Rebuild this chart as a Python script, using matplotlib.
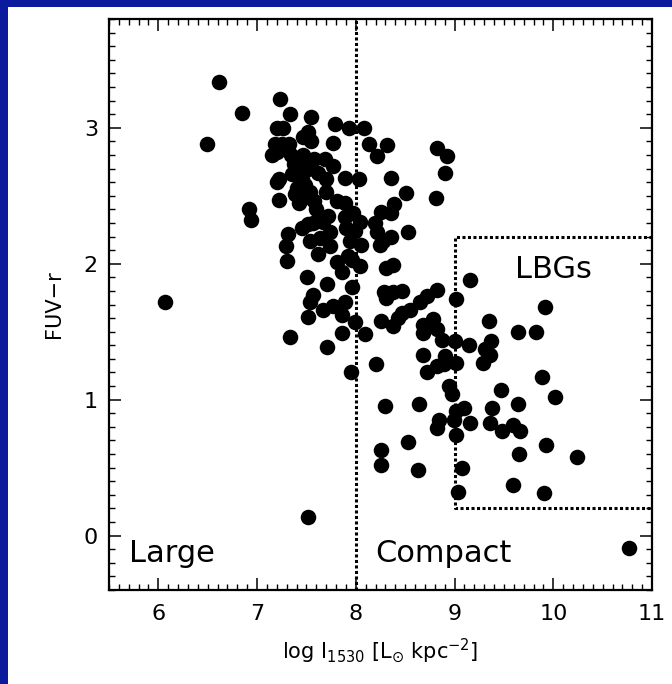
import matplotlib
matplotlib.use("Agg")
import matplotlib.pyplot as plt
from matplotlib.ticker import MultipleLocator, FixedLocator
from matplotlib.patches import Rectangle

# log surface brightness at 1530 A [L_sun kpc^-2] and FUV-r colour per galaxy
log_i1530 = [
    6.07, 6.49, 6.61, 6.85, 6.92, 6.94, 7.52, 10.77,
    7.23, 7.33, 7.55, 7.79, 7.20, 7.26, 7.52, 7.47, 7.55, 7.18, 7.25, 7.32,
    7.77, 7.15, 7.20, 7.34, 7.47, 7.43, 7.37, 7.58, 7.69, 7.77, 7.62, 7.70,
    7.22, 7.20, 7.40, 7.49, 7.38, 7.47, 7.54, 7.22, 7.70, 7.81, 7.58, 7.93,
    8.08, 8.13, 8.32, 8.21, 8.82, 8.92, 8.90, 8.81, 7.89, 8.03, 8.36, 8.51,
    8.39, 7.89, 7.52, 7.45, 7.35, 7.60, 7.42,
    7.31, 7.29, 7.30, 7.45, 7.52, 7.57, 7.67, 7.72, 7.54, 7.64, 7.74, 7.74,
    7.62, 7.81, 7.86, 7.51, 7.71, 7.57, 7.54, 7.67, 7.77, 7.52, 7.86, 7.86,
    7.33, 7.71, 8.25, 8.36, 7.89, 7.97, 8.04, 7.90, 7.99, 8.19, 8.53, 8.21,
    8.36, 8.28, 8.24, 7.94, 8.05, 7.92, 7.96, 8.04, 8.31, 8.38, 7.96, 8.29,
    8.38, 8.47, 8.31, 8.65, 8.72, 8.82, 9.01, 9.16, 7.89, 8.47, 8.55, 8.43,
    8.25, 8.38, 7.99, 8.09, 8.68, 8.78, 8.68, 8.82, 8.87, 9.00, 9.15,
    7.95, 8.20, 8.68, 8.72, 8.82, 8.89, 8.90, 9.01, 8.94, 8.97, 8.30, 8.64,
    9.01, 9.10, 8.84, 8.82, 8.99, 9.16, 9.01, 8.53, 8.26, 8.26, 8.63, 9.08,
    9.04,
    9.92, 9.35, 9.64, 9.82, 9.37, 9.31, 9.36, 9.29, 9.89, 9.47, 10.02, 9.64,
    9.38, 9.36, 9.48, 9.59, 9.66, 9.93, 9.65, 10.24, 9.59, 9.91,
]
fuv_r = [
    1.72, 2.88, 3.34, 3.11, 2.40, 2.32, 0.14, -0.09,
    3.21, 3.10, 3.08, 3.03, 3.00, 3.00, 2.97, 2.93, 2.90, 2.88, 2.88, 2.88,
    2.89, 2.80, 2.82, 2.80, 2.80, 2.72, 2.73, 2.77, 2.77, 2.72, 2.67, 2.62,
    2.62, 2.60, 2.56, 2.58, 2.51, 2.48, 2.53, 2.47, 2.53, 2.46, 2.46, 3.00,
    3.00, 2.88, 2.87, 2.79, 2.85, 2.79, 2.67, 2.48, 2.63, 2.62, 2.63, 2.52,
    2.44, 2.45, 2.70, 2.62, 2.66, 2.40, 2.45,
    2.22, 2.13, 2.02, 2.26, 2.29, 2.30, 2.31, 2.35, 2.17, 2.19, 2.23, 2.13,
    2.07, 2.01, 1.94, 1.90, 1.85, 1.77, 1.72, 1.66, 1.69, 1.61, 1.62, 1.49,
    1.46, 1.39, 2.38, 2.37, 2.34, 2.37, 2.31, 2.26, 2.24, 2.30, 2.23, 2.23,
    2.20, 2.17, 2.14, 2.17, 2.14, 2.06, 2.03, 1.98, 1.97, 1.99, 1.83, 1.79,
    1.79, 1.80, 1.75, 1.72, 1.76, 1.81, 1.74, 1.88, 1.72, 1.64, 1.66, 1.60,
    1.58, 1.54, 1.57, 1.48, 1.55, 1.59, 1.49, 1.52, 1.44, 1.43, 1.40,
    1.20, 1.26, 1.33, 1.20, 1.25, 1.26, 1.32, 1.27, 1.10, 1.04, 0.95, 0.97,
    0.92, 0.94, 0.85, 0.79, 0.85, 0.83, 0.74, 0.69, 0.63, 0.52, 0.48, 0.50,
    0.32,
    1.68, 1.58, 1.50, 1.50, 1.43, 1.37, 1.33, 1.27, 1.17, 1.07, 1.02, 0.97,
    0.94, 0.83, 0.77, 0.81, 0.77, 0.67, 0.60, 0.58, 0.37, 0.31,
]

x_ticks = [6, 7, 8, 9, 10, 11]
y_ticks = [0, 1, 2, 3]
size_cut = 8.0                      # divides large from compact galaxies
lbg_x0, lbg_y0, lbg_y1 = 9.0, 0.2, 2.2  # Lyman-break analogue selection box

plt.rcParams['font.family'] = ['DejaVu Sans']
plt.rcParams['mathtext.default'] = 'regular'

fig = plt.figure(figsize=(6.72, 6.84), dpi=100)
fig.patch.set_facecolor('#0c1a9e')
fig.add_artist(Rectangle((8 / 672, 0), 1, 1 - 7 / 684, transform=fig.transFigure,
                         facecolor='white', edgecolor='none', zorder=0))

ax = fig.add_axes([109 / 672, 1 - 590 / 684, 543 / 672, 571 / 684])
ax.set_facecolor('white')
ax.set_xlim(5.5, 11)
ax.set_ylim(-0.4, 3.8)

ax.scatter(log_i1530, fuv_r, s=125, color='black', linewidths=0, zorder=3)

dot = dict(color='black', lw=2.2, linestyle=(0, (1, 0.8)), zorder=2)
ax.plot([size_cut, size_cut], [-0.4, 3.8], **dot)
ax.plot([11, lbg_x0, lbg_x0, 11], [lbg_y1, lbg_y1, lbg_y0, lbg_y0], **dot)

ax.text(5.70, -0.13, 'Large', fontsize=22, va='center', ha='left')
ax.text(8.20, -0.13, 'Compact', fontsize=22, va='center', ha='left')
ax.text(9.61, 1.96, 'LBGs', fontsize=22, va='center', ha='left')

ax.xaxis.set_major_locator(FixedLocator(x_ticks))
ax.yaxis.set_major_locator(FixedLocator(y_ticks))
ax.xaxis.set_minor_locator(MultipleLocator(0.1))
ax.yaxis.set_minor_locator(MultipleLocator(0.1))
ax.tick_params(which='both', direction='in', top=True, right=True, color='black')
ax.tick_params(which='major', length=8.6, width=1.1, labelsize=16, pad=8)
ax.tick_params(which='minor', length=4.3, width=1.0)
ax.tick_params(axis='x', which='major', pad=10)
ax.set_xticklabels([str(v) for v in x_ticks])
ax.set_yticklabels([str(v) for v in y_ticks])
for sp in ax.spines.values():
    sp.set_linewidth(1.6)

ax.set_xlabel(r'log I$_{1530}$ [L$_{\odot}$ kpc$^{-2}$]', fontsize=15, labelpad=9)
ax.set_ylabel('FUV\u2212r', fontsize=15, labelpad=14)

fig.savefig('out.png', dpi=100, facecolor=fig.get_facecolor())
